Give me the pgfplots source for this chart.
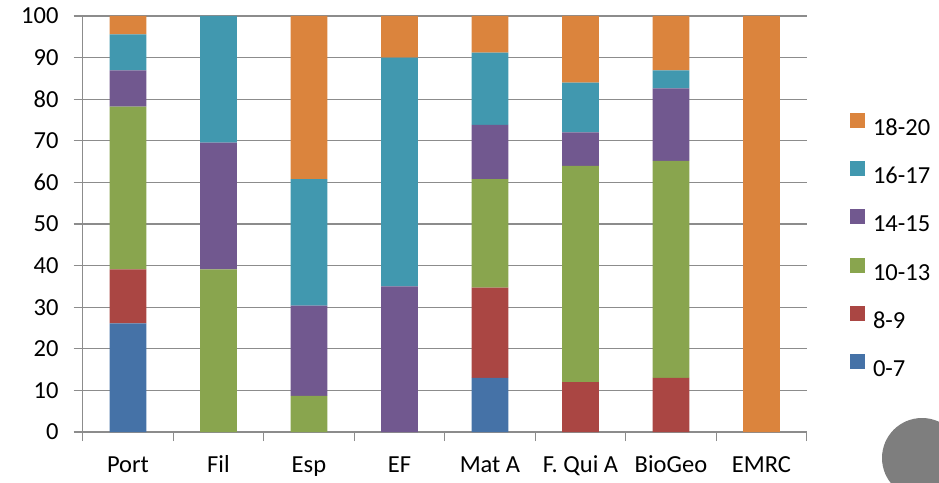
\documentclass[border=0pt]{standalone}
\usepackage{pgfplots}
\pgfplotsset{compat=1.18}
\usepackage{fontspec}
\setmainfont{Carlito}
\definecolor{cA}{HTML}{4572A7}
\definecolor{cB}{HTML}{AA4643}
\definecolor{cC}{HTML}{89A54E}
\definecolor{cD}{HTML}{71588F}
\definecolor{cE}{HTML}{4198AF}
\definecolor{cF}{HTML}{DB843D}
\definecolor{gridg}{HTML}{8C8C8C}
\begin{document}
\fontsize{24}{28}\selectfont
\begin{tikzpicture}[x=1pt,y=1pt]
\useasboundingbox (0,0) rectangle (939,482);
\clip (0,0) rectangle (939,482);
\begin{axis}[
  at={(82.7pt,50pt)}, anchor=south west,
  scale only axis, width=724pt, height=416pt,
  ybar stacked, bar width=36.7pt,
  xmin=-0.5, xmax=7.5, ymin=0, ymax=100,
  axis x line*=bottom, axis y line*=left,
  xtick={0,...,7},
  xticklabels={Port,Fil,Esp,EF,Mat A,F. Qui A,BioGeo,EMRC},
  minor xtick={-0.5,0.5,...,7.5},
  ytick={0,10,...,100},
  ymajorgrids,
  grid style={gridg, line width=1.3pt},
  axis line style={gridg, line width=1.3pt},
  tick style={gridg, line width=1.3pt},
  major x tick style={draw=none},
  tick align=outside,
  major tick length=9pt, minor tick length=9pt,
  /pgf/number format/assume math mode=true,
  tick label style={font=\fontsize{24.5}{28}\selectfont},
  xticklabel style={anchor=base, yshift=-31pt},
  yticklabel style={xshift=-7pt},
  reverse legend,
  legend image code/.code={\fill (0pt,0pt) rectangle (15pt,15pt);},
  legend style={at={(1.0598,0.767)}, anchor=north west, draw=none, fill=none,
    inner sep=0pt, outer sep=0pt, row sep=25.7pt, column sep=8pt,
    font=\fontsize{24.5}{28}\selectfont,
    nodes={inner sep=0pt, text height=15pt, text depth=0pt}},
  legend cell align=left,
]
\addplot[fill=cA, draw=none] coordinates {(0,26.1) (1,0) (2,0) (3,0) (4,13.0) (5,0) (6,0) (7,0)};
\addplot[fill=cB, draw=none] coordinates {(0,13.0) (1,0) (2,0) (3,0) (4,21.7) (5,12) (6,13.0) (7,0)};
\addplot[fill=cC, draw=none] coordinates {(0,39.1) (1,39.1) (2,8.7) (3,0) (4,26.1) (5,52) (6,52.2) (7,0)};
\addplot[fill=cD, draw=none] coordinates {(0,8.7) (1,30.45) (2,21.7) (3,35) (4,13.0) (5,8) (6,17.4) (7,0)};
\addplot[fill=cE, draw=none] coordinates {(0,8.7) (1,30.45) (2,30.4) (3,55) (4,17.4) (5,12) (6,4.3) (7,0)};
\addplot[fill=cF, draw=none] coordinates {(0,4.4) (1,0) (2,39.2) (3,10) (4,8.8) (5,16) (6,13.1) (7,100)};
\legend{0-7,8-9,10-13,14-15,16-17,18-20}
\end{axis}
\fill[gridg!90!black] (922,24) circle (40);
\end{tikzpicture}
\end{document}
